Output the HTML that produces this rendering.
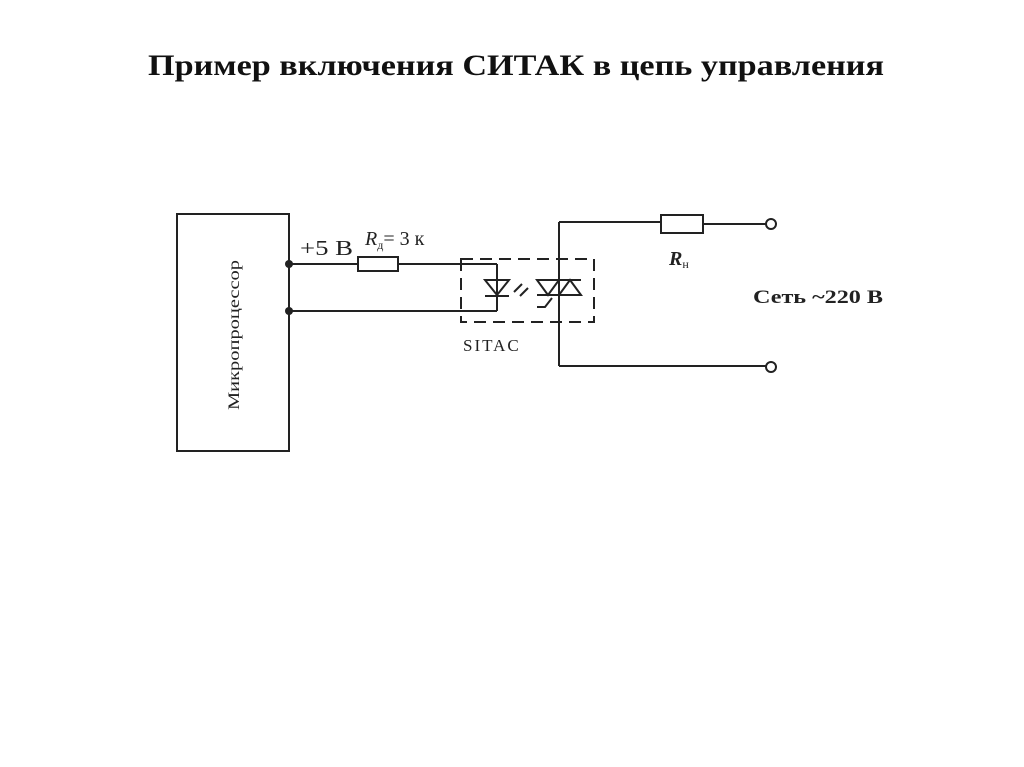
<!DOCTYPE html>
<html><head><meta charset="utf-8"><style>
html,body{margin:0;padding:0;background:#fff;width:1024px;height:767px;overflow:hidden}
</style></head><body>
<svg width="1024" height="767" xmlns="http://www.w3.org/2000/svg" font-family="'Liberation Serif', serif">
<text x="148" y="75" font-size="30" font-weight="bold" fill="#111" textLength="736" lengthAdjust="spacingAndGlyphs">Пример включения СИТАК в цепь управления</text>
<g stroke="#222" stroke-width="2" fill="none">
<rect x="177" y="214" width="112" height="237"/>
<line x1="289" y1="264" x2="358" y2="264"/>
<rect x="358" y="257" width="40" height="14"/>
<line x1="398" y1="264" x2="497" y2="264"/>
<line x1="497" y1="264" x2="497" y2="311"/>
<line x1="289" y1="311" x2="497" y2="311"/>
<polygon points="485,280 509,280 497,295"/>
<line x1="485" y1="296" x2="509" y2="296"/>
<line x1="514" y1="292" x2="522" y2="284"/>
<line x1="520" y1="296" x2="528" y2="288"/>
<rect x="461" y="259" width="133" height="63" stroke-dasharray="12,7"/>
<line x1="559" y1="222" x2="559" y2="366"/>
<line x1="537" y1="280" x2="581" y2="280"/>
<line x1="537" y1="295" x2="581" y2="295"/>
<polygon points="537,280 559,280 548,295"/>
<polygon points="559,295 581,295 570,280"/>
<polyline points="537,307 545,307 552,298"/>
<line x1="559" y1="222" x2="661" y2="222"/>
<rect x="661" y="215" width="42" height="18"/>
<line x1="703" y1="224" x2="766" y2="224"/>
<circle cx="771" cy="224" r="5"/>
<line x1="559" y1="366" x2="766" y2="366"/>
<circle cx="771" cy="367" r="5"/>
</g>
<circle cx="289" cy="264" r="4" fill="#222"/>
<circle cx="289" cy="311" r="4" fill="#222"/>
<text transform="translate(239,335) rotate(-90)" text-anchor="middle" font-size="16" fill="#222" textLength="150" lengthAdjust="spacingAndGlyphs">Микропроцессор</text>
<text x="300" y="255" font-size="21" fill="#222" textLength="53" lengthAdjust="spacingAndGlyphs">+5 В</text>
<text x="365" y="245" font-size="20" fill="#222"><tspan font-style="italic">R</tspan><tspan font-size="12" dy="4">д</tspan><tspan dy="-4">= 3 к</tspan></text>
<text x="463" y="351" font-size="17" fill="#222" letter-spacing="2">SITAC</text>
<text x="669" y="265" font-size="20" fill="#222"><tspan font-style="italic" font-weight="bold">R</tspan><tspan font-size="12" dy="3">н</tspan></text>
<text x="753" y="303" font-size="19" font-weight="bold" fill="#222" textLength="130" lengthAdjust="spacingAndGlyphs">Сеть  ~220 В</text>
</svg>
</body></html>
